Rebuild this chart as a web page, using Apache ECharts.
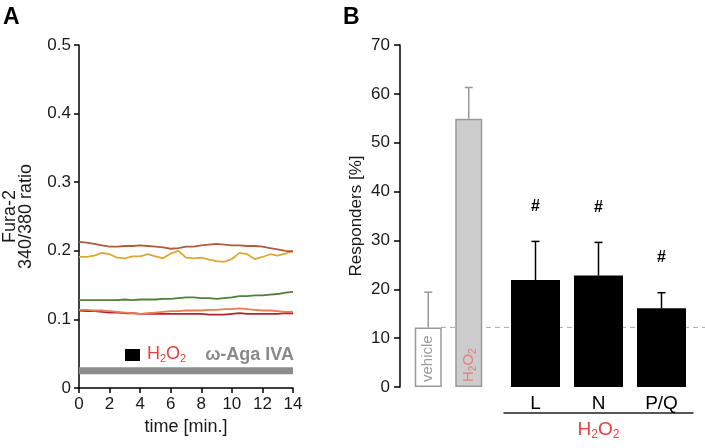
<!DOCTYPE html>
<html><head><meta charset="utf-8">
<script src="https://cdn.jsdelivr.net/npm/echarts@6/dist/echarts.min.js"></script>
<style>html,body{margin:0;padding:0;background:#fff}#c{width:705px;height:448px}</style>
</head><body><div id="c"></div>
<script>
const FONT = 'Liberation Sans, Arial, Helvetica, sans-serif';

// ---------- Panel A data ----------
const timeMin = [0,0.5,1,1.5,2,2.5,3,3.5,4,4.5,5,5.5,6,6.5,7,7.5,8,8.5,9,9.5,10,10.5,11,11.5,12,12.5,13,13.5,14];
const traceBrown  = [0.213,0.212,0.210,0.208,0.206,0.206,0.207,0.207,0.208,0.207,0.206,0.205,0.203,0.204,0.206,0.206,0.208,0.209,0.210,0.209,0.208,0.208,0.207,0.207,0.206,0.204,0.202,0.200,0.199];
const traceYellow = [0.191,0.191,0.193,0.197,0.195,0.190,0.189,0.192,0.192,0.195,0.192,0.189,0.196,0.200,0.190,0.189,0.190,0.187,0.185,0.184,0.188,0.197,0.195,0.188,0.191,0.195,0.193,0.196,0.200];
const traceGreen  = [0.128,0.128,0.128,0.128,0.128,0.128,0.129,0.128,0.129,0.129,0.129,0.130,0.130,0.131,0.132,0.132,0.131,0.131,0.130,0.131,0.132,0.134,0.134,0.135,0.135,0.136,0.137,0.139,0.140];
const traceSalmon = [0.114,0.114,0.113,0.113,0.112,0.111,0.110,0.109,0.108,0.109,0.110,0.111,0.112,0.112,0.113,0.113,0.113,0.114,0.114,0.115,0.115,0.116,0.115,0.114,0.113,0.113,0.112,0.111,0.111];
const traceRed    = [0.113,0.112,0.112,0.111,0.110,0.110,0.109,0.109,0.108,0.108,0.108,0.108,0.108,0.108,0.108,0.108,0.108,0.107,0.107,0.107,0.108,0.109,0.108,0.108,0.108,0.108,0.108,0.109,0.109];
const agaPeriod = [0, 14];
const agaLevel = 0.025;

// ---------- Panel B data ----------
const categoriesLeft = ['vehicle', 'H2O2'];
const meansLeft = [12.2, 54.9];
const errLeft = [7.2, 6.4];
const categoriesRight = ['L', 'N', 'P/Q'];
const meansRight = [21.9, 22.8, 16.1];
const errRight = [7.9, 6.8, 3.2];
const sigRight = ['#', '#', '#'];
const baselineValue = 12.2;

const chart = echarts.init(document.getElementById('c'), null, {renderer: 'canvas'});
const pair = arr => timeMin.map((t, i) => [t, arr[i]]);

function errRender(color, sig) {
  return function (params, api) {
    const i = api.value(0), m = api.value(1), e = api.value(2);
    const p0 = api.coord([i, m]);
    const p1 = api.coord([i, m + e]);
    const st = {stroke: color, lineWidth: 1.5};
    const ch = [
      {type: 'line', shape: {x1: p0[0], y1: p0[1], x2: p1[0], y2: p1[1]}, style: st},
      {type: 'line', shape: {x1: p1[0] - 4, y1: p1[1], x2: p1[0] + 4, y2: p1[1]}, style: st}
    ];
    if (sig && sig[params.dataIndex]) {
      const p2 = api.coord([i, m + e + 7.2]);
      ch.push({type: 'text', style: {text: sig[params.dataIndex], x: p2[0], y: p2[1], align: 'center', verticalAlign: 'middle', font: 'bold 16px ' + FONT, fill: '#000'}});
    }
    return {type: 'group', children: ch};
  };
}

const subRich = (color, big, small) => ({
  n: {fontSize: big, color: color, fill: color, fontFamily: FONT},
  s: {fontSize: small, color: color, fill: color, fontFamily: FONT, padding: [Math.round(big * 0.55), 0, 0, 0]}
});
const h2o2 = '{n|H}{s|2}{n|O}{s|2}';

const axisLine = {show: true, lineStyle: {color: '#000', width: 1.5}};
const tick = len => ({show: true, length: len, lineStyle: {color: '#000', width: 1.5}});
const lbl = (m, fs) => ({fontSize: fs, color: '#1a1a1a', fontFamily: FONT, margin: m});

const leftBarColors = ['#ffffff', '#cccccc'];
const leftLabelColors = ['#9a9a9a', '#f07a7a'];

const option = {
  animation: false,
  backgroundColor: '#fff',
  textStyle: {fontFamily: FONT},
  grid: [
    {left: 79, top: 45, width: 214, height: 343},
    {left: 408, top: 45, width: 81, height: 342},
    {left: 504, top: 45, width: 189, height: 342},
    {left: 441, top: 45, right: 0, height: 342}
  ],
  xAxis: [
    {gridIndex: 0, type: 'value', min: 0, max: 14, interval: 2, axisLine, axisTick: tick(5),
     axisLabel: lbl(8, 17), splitLine: {show: false},
     name: 'time [min.]', nameLocation: 'middle', nameGap: 30,
     nameTextStyle: {fontSize: 18, color: '#1a1a1a', fontFamily: FONT}},
    {gridIndex: 1, type: 'category', data: categoriesLeft, axisLine: {show: false}, axisTick: {show: false}, axisLabel: {show: false}},
    {gridIndex: 2, type: 'category', data: categoriesRight, axisLine: {show: false}, axisTick: {show: false},
     axisLabel: {fontSize: 19, color: '#000', fontFamily: FONT, margin: 7}},
    {gridIndex: 2, type: 'category', data: categoriesRight, position: 'bottom', offset: 26,
     axisLine: {show: true, lineStyle: {color: '#222', width: 1.5}}, axisTick: {show: false}, axisLabel: {show: false},
     name: h2o2, nameLocation: 'middle', nameGap: 6,
     nameTextStyle: {rich: subRich('#e8413c', 19, 12)}},
    {gridIndex: 3, type: 'value', min: 0, max: 1, show: false}
  ],
  yAxis: [
    {gridIndex: 0, type: 'value', min: 0, max: 0.5, interval: 0.1, axisLine, axisTick: tick(5),
     axisLabel: Object.assign(lbl(8, 17), {formatter: v => v === 0 ? '0' : v.toFixed(1)}), splitLine: {show: false},
     name: 'Fura-2\n340/380 ratio', nameLocation: 'middle', nameRotate: 90, nameGap: 45,
     nameTextStyle: {fontSize: 18, lineHeight: 16, color: '#1a1a1a', fontFamily: FONT}},
    {gridIndex: 1, type: 'value', min: 0, max: 70, interval: 10, offset: 8, axisLine, axisTick: tick(6),
     axisLabel: lbl(10, 17), splitLine: {show: false},
     name: 'Responders [%]', nameLocation: 'middle', nameRotate: 90, nameGap: 35,
     nameTextStyle: {fontSize: 17, color: '#1a1a1a', fontFamily: FONT}},
    {gridIndex: 2, type: 'value', min: 0, max: 70, show: false},
    {gridIndex: 3, type: 'value', min: 0, max: 70, show: false}
  ],
  series: [
    {type: 'line', xAxisIndex: 0, yAxisIndex: 0, data: [[agaPeriod[0], agaLevel], [agaPeriod[1], agaLevel]], showSymbol: false,
     lineStyle: {color: '#8c8c8c', width: 7, cap: 'butt'}, silent: true},
    {type: 'line', xAxisIndex: 0, yAxisIndex: 0, data: pair(traceYellow), showSymbol: false, lineStyle: {color: '#d9aa35', width: 1.8}},
    {type: 'line', xAxisIndex: 0, yAxisIndex: 0, data: pair(traceBrown), showSymbol: false, lineStyle: {color: '#b25a3b', width: 1.8}},
    {type: 'line', xAxisIndex: 0, yAxisIndex: 0, data: pair(traceGreen), showSymbol: false, lineStyle: {color: '#4f8138', width: 1.8}},
    {type: 'line', xAxisIndex: 0, yAxisIndex: 0, data: pair(traceRed), showSymbol: false, lineStyle: {color: '#b5222f', width: 1.8}},
    {type: 'line', xAxisIndex: 0, yAxisIndex: 0, data: pair(traceSalmon), showSymbol: false, lineStyle: {color: '#f07b52', width: 1.8}},

    {type: 'line', xAxisIndex: 4, yAxisIndex: 3, z: 1, data: [[0, baselineValue], [1, baselineValue]], showSymbol: false,
     lineStyle: {color: '#aaaaaa', width: 1, type: [5, 4]}, silent: true},
    {type: 'bar', xAxisIndex: 1, yAxisIndex: 1, z: 3, barWidth: 27,
     data: meansLeft.map((v, i) => ({
       value: v,
       itemStyle: {color: leftBarColors[i], borderColor: '#9a9a9a', borderWidth: 1.5},
       label: {show: true, position: 'insideBottom', rotate: 90, align: 'left', verticalAlign: 'middle', distance: 5,
               formatter: i === 0 ? categoriesLeft[0] : h2o2,
               fontSize: 15, color: leftLabelColors[i], fontFamily: FONT,
               rich: subRich(leftLabelColors[i], 15, 10)}
     }))},
    {type: 'bar', xAxisIndex: 2, yAxisIndex: 2, z: 3, barWidth: 49, itemStyle: {color: '#000'}, data: meansRight},
    {type: 'custom', xAxisIndex: 1, yAxisIndex: 1, z: 4, renderItem: errRender('#9a9a9a', null),
     data: meansLeft.map((v, i) => [i, v, errLeft[i]])},
    {type: 'custom', xAxisIndex: 2, yAxisIndex: 2, z: 4, renderItem: errRender('#000', sigRight),
     data: meansRight.map((v, i) => [i, v, errRight[i]])}
  ],
  graphic: [
    {type: 'text', left: 3, top: 6, style: {text: 'A', font: 'bold 23px ' + FONT, fill: '#000'}},
    {type: 'text', left: 343, top: 6, style: {text: 'B', font: 'bold 23px ' + FONT, fill: '#000'}},
    {type: 'rect', shape: {x: 125, y: 349, width: 15, height: 12}, style: {fill: '#000'}},
    {type: 'text', left: 147, top: 345, style: {text: h2o2, fill: '#e8413c', rich: subRich('#e8413c', 18, 11)}},
    {type: 'text', right: 705 - 294, top: 346, style: {text: 'ω-Aga IVA', font: 'bold 18px ' + FONT, fill: '#8a8a8a'}}
  ]
};
chart.setOption(option);
</script>
</body></html>
